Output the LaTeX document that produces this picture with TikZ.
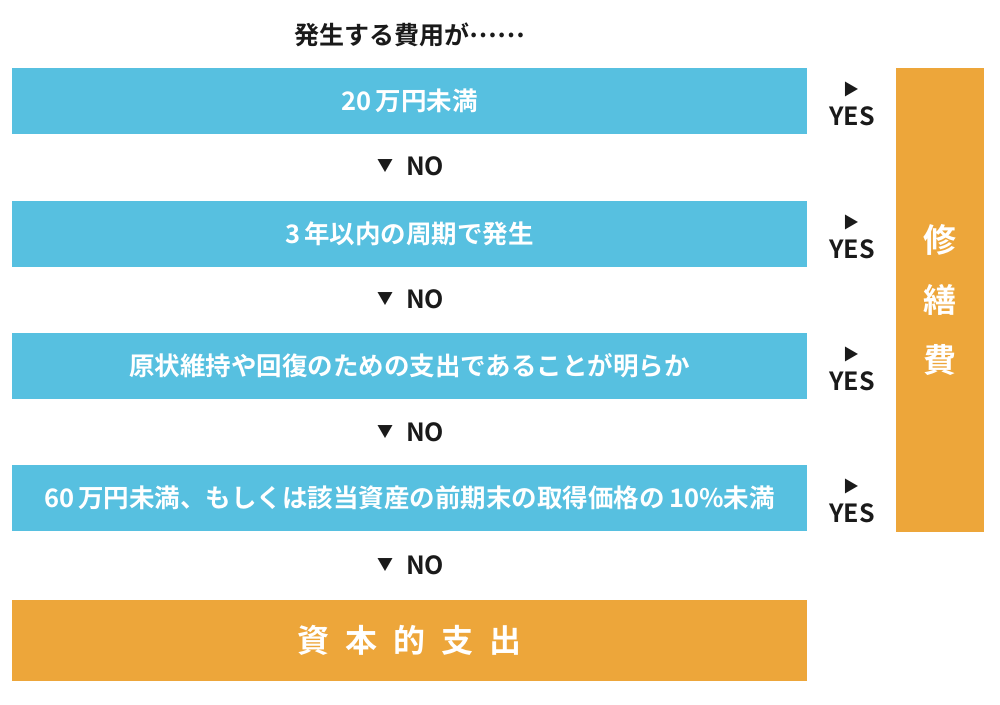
\documentclass[tikz,border=0pt]{standalone}
\usepackage{fontspec}
\setmainfont{Noto Sans CJK JP}[BoldFont={* Bold}]
\definecolor{qblue}{HTML}{57C0E0}
\definecolor{qorange}{HTML}{EDA63A}
\definecolor{qtext}{HTML}{1A1A1A}
\tikzset{
  qbox/.style={fill=qblue, draw=none, minimum width=795pt, minimum height=66pt, inner sep=0pt, text=white, font=\bfseries\fontsize{25.5}{25.5}\selectfont},
  qend/.style={fill=qorange, draw=none, inner sep=0pt, text=white},
  nolab/.style={text=qtext, font=\bfseries\fontsize{25}{25}\selectfont, inner sep=0pt},
  marklab/.style={text=qtext, font=\bfseries\fontsize{16}{16}\selectfont, inner sep=0pt},
  yeslab/.style={text=qtext, font=\bfseries\fontsize{25}{25}\selectfont, inner sep=0pt},
}
\begin{document}
\begin{tikzpicture}[x=1pt,y=-1pt]
\useasboundingbox (0,0) rectangle (1000,704);
\node[text=qtext, font=\bfseries\fontsize{25}{25}\selectfont, inner sep=0pt] (title) at (410,35) {発生する費用が\raisebox{0.3em}{……}};
\node[qbox] (b1) at (409.5,101) {20\,万円未満};
\node[qbox] (b2) at (409.5,234) {3\,年以内の周期で発生};
\node[qbox] (b3) at (409.5,366) {原状維持や回復のための支出であることが明らか};
\node[qbox] (b4) at (409.5,498) {60\,万円未満、もしくは該当資産の前期末の取得価格の\,10\%未満};
\node[qend, minimum width=795pt, minimum height=81pt, font=\bfseries\fontsize{32}{32}\selectfont] (capex) at (409.5,640.5) {資\hspace{16pt}本\hspace{16pt}的\hspace{16pt}支\hspace{16pt}出};
\node[qend, minimum width=88pt, minimum height=464pt, align=center, font=\bfseries\fontsize{33}{60}\selectfont] (repair) at (940,300) {修\\繕\\費};
\foreach \i/\y in {1/166,2/299,3/432,4/565} {
  \node[marklab] (m\i) at (385,\y) {▼};
  \node[nolab] (n\i) at (425,\y) {NO};
}
\foreach \i/\y in {1/68,2/201,3/333,4/465} {
  \node[marklab] (a\i) at (851,\y+21) {▶};
  \node[yeslab] (y\i) at (852,\y+48) {YES};
}
\end{tikzpicture}
\end{document}
